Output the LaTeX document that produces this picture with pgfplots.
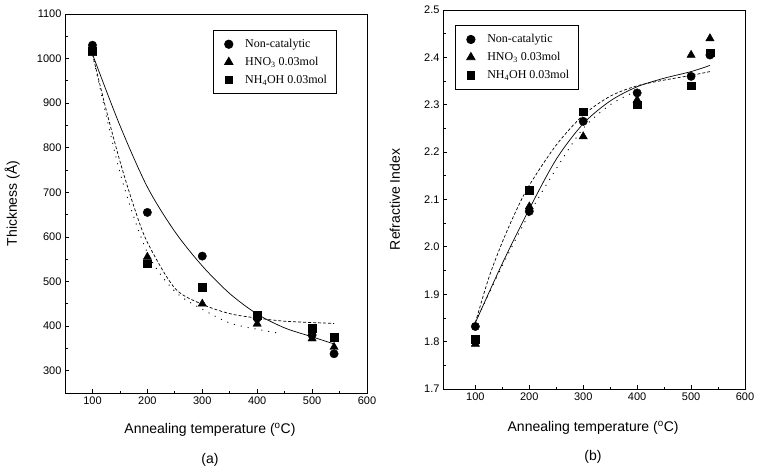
\documentclass[border=0pt]{standalone}
\usepackage{fontspec}
\setmainfont{Liberation Sans}
\newfontfamily\timesfont{Liberation Serif}
\usepackage{pgfplots}
\pgfplotsset{compat=1.18}

\pgfplotsset{
  panel/.style={
    scale only axis, width=302pt, height=379pt,
    anchor=south west,
    axis line style={line width=0.9pt},
    tick align=inside, xtick pos=bottom, ytick pos=left,
    minor tick num=1,
    major tick length=4pt, minor tick length=2.5pt,
    every tick/.style={line width=0.8pt, black},
    xmax=600, xtick={100,200,...,600},
    tick label style={font=\fontsize{11}{13}\selectfont},
    /pgf/number format/assume math mode=true,
    /pgf/number format/1000 sep={},
    label style={font=\fontsize{14}{16}\selectfont},
    legend cell align=left,
    legend style={font=\timesfont\fontsize{12}{14}\selectfont, draw=black, line width=0.8pt,
      inner xsep=7pt, inner ysep=7pt, row sep=4pt, anchor=north west},
  },
  fit/.style={black, line width=0.7pt, smooth, mark=none, forget plot},
  mk/.style={only marks, black,
    legend image code/.code={\path (0pt,0pt) (22pt,0pt); \draw[##1] plot coordinates {(8pt,0pt)};}},
  circ/.style={mk, mark=*, mark size=4.2pt},
  tri/.style={mk, mark=triangle*, mark size=4.8pt},
  sq/.style={mk, mark=square*, mark size=3.8pt},
}

\begin{document}
\begin{tikzpicture}
\useasboundingbox (0pt,0pt) rectangle (759pt,471pt);

% (a) thickness
\begin{axis}[panel, at={(65pt,78pt)},
  xmin=50, ymin=250, ymax=1100, ytick={300,400,...,1100},
  xlabel={Annealing temperature (\textsuperscript{o}C)},
  ylabel={Thickness (Å)},
  xlabel style={at={(axis description cs:0.48,-0.098)}, anchor=center},
  ylabel style={at={(axis description cs:-0.175,0.5)}, anchor=center},
  legend style={at={(axis description cs:0.49,0.958)}}]
\addplot[circ] coordinates {(100,1030) (200,655) (300,557) (400,418) (500,380) (540,338)};
\addplot[tri] coordinates {(100,1012) (200,555) (300,450) (400,405) (500,372) (540,353)};
\addplot[sq] coordinates {(100,1018) (200,540) (300,487) (400,425) (500,395) (540,375)};
\legend{Non-catalytic, HNO\textsubscript{3} 0.03mol, NH\textsubscript{4}OH 0.03mol}
\addplot[fit] coordinates {(100,1010) (150,850) (200,712) (250,612) (300,535) (350,473) (400,427) (450,396) (500,376) (540,360)};
\addplot[fit, dash pattern=on 3pt off 2pt] coordinates {(100,1010) (125,885) (150,770) (175,670) (200,588) (250,485) (300,449) (350,428) (400,418) (450,411) (500,408) (540,406)};
\addplot[fit, line width=0.9pt, dash pattern=on 1pt off 6pt] coordinates {(100,1010) (150,745) (200,565) (250,478) (300,438) (350,407) (400,393) (440,384)};
\end{axis}

% (b) refractive index
\begin{axis}[panel, at={(443pt,82pt)},
  xmin=40, ymin=1.7, ymax=2.5, ytick={1.7,1.8,...,2.5},
  yticklabel style={/pgf/number format/.cd, fixed, fixed zerofill, precision=1},
  xlabel={Annealing temperature (\textsuperscript{o}C)},
  ylabel={Refractive Index},
  xlabel style={at={(axis description cs:0.497,-0.103)}, anchor=center},
  ylabel style={at={(axis description cs:-0.159,0.5)}, anchor=center},
  legend style={at={(axis description cs:0.04,0.96)}}]
\addplot[circ] coordinates {(100,1.832) (200,2.075) (300,2.265) (400,2.325) (500,2.36) (535,2.405)};
\addplot[tri] coordinates {(100,1.795) (200,2.085) (300,2.233) (400,2.31) (500,2.405) (535,2.44)};
\addplot[sq] coordinates {(100,1.805) (200,2.12) (300,2.285) (400,2.30) (500,2.34) (535,2.41)};
\legend{Non-catalytic, HNO\textsubscript{3} 0.03mol, NH\textsubscript{4}OH 0.03mol}
\addplot[fit] coordinates {(100,1.84) (150,1.965) (200,2.08) (250,2.185) (300,2.26) (350,2.308) (400,2.338) (450,2.356) (500,2.37) (535,2.383)};
\addplot[fit, dash pattern=on 3pt off 2pt] coordinates {(100,1.84) (125,1.935) (150,2.01) (175,2.075) (200,2.13) (250,2.215) (300,2.278) (350,2.318) (400,2.34) (450,2.352) (500,2.362) (535,2.37)};
\addplot[fit, line width=0.9pt, dash pattern=on 1pt off 6pt] coordinates {(100,1.84) (150,1.96) (200,2.07) (250,2.165) (300,2.25) (350,2.30) (400,2.33)};
\end{axis}

\node[font=\fontsize{14}{16}\selectfont] at (210pt,11pt) {(a)};
\node[font=\fontsize{14}{16}\selectfont] at (593pt,14pt) {(b)};
\end{tikzpicture}
\end{document}
